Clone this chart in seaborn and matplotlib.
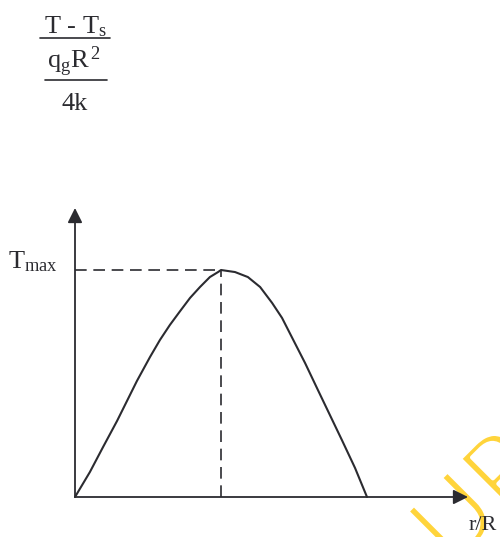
import matplotlib
matplotlib.use("Agg")
import matplotlib.pyplot as plt
import matplotlib.patheffects as pe
import seaborn as sns
import pandas as pd
from matplotlib.lines import Line2D

# Dimensionless temperature profile, theta = (T - Ts)/(qg R^2 / 4k), against r/R
r_over_R = [0.0, 0.051, 0.096, 0.144, 0.178, 0.212, 0.257, 0.291, 0.325, 0.360,
            0.394, 0.428, 0.462, 0.490, 0.5,
            0.548, 0.592, 0.634, 0.675, 0.709, 0.753, 0.788, 0.832, 0.873, 0.914,
            0.959, 1.0]
theta = [0.0, 0.110, 0.220, 0.335, 0.423, 0.511, 0.617, 0.692, 0.758, 0.819,
         0.877, 0.925, 0.969, 0.991, 1.0,
         0.991, 0.969, 0.925, 0.855, 0.789, 0.678, 0.590, 0.471, 0.361, 0.251,
         0.128, 0.0]

y_label_lines = ["T - T$_\\mathregular{s}$",
                 "q$_\\mathregular{g}$R$^{\\,\\mathregular{2}}$",
                 "4k"]
peak_label = "T$_\\mathregular{max}$"
x_label = "r/R"
stamp = "UP"

sns.set_style("white")
plt.rcParams["font.family"] = ["Liberation Serif", "DejaVu Serif"]
plt.rcParams["mathtext.fontset"] = "custom"
plt.rcParams["mathtext.rm"] = "Liberation Serif"
plt.rcParams["mathtext.it"] = "Liberation Serif:italic"

W, H = 500, 537
fig = plt.figure(figsize=(W / 100, H / 100), dpi=100)
ax = fig.add_axes([0, 0, 1, 1])
ax.set_axis_off()

# pixel scale of the plot area
x0, y0, sx, sy = 75, 497, 292, 227
ax.set_xlim(-x0 / sx, (W - x0) / sx)
ax.set_ylim(-(H - y0) / sy, y0 / sy)

ink = "#2b2b30"


def fx(px):
    return px / W


def fy(py):
    return 1 - py / H


# diagonal stamp in the corner, kept underneath the drawing
ax.text(fx(452), fy(568), stamp, transform=fig.transFigure, fontsize=72,
        family="Lato", fontweight="normal", color="#FFD43B", rotation=45,
        rotation_mode="anchor", ha="left", va="baseline", zorder=0,
        path_effects=[pe.Normal(),
                      pe.Stroke(linewidth=3.0, foreground="white")])

df = pd.DataFrame({"r": r_over_R, "theta": theta})
sns.lineplot(data=df, x="r", y="theta", ax=ax, color=ink, lw=1.5, sort=False,
             zorder=3)

# dashed guides to the maximum
i_max = df["theta"].idxmax()
r_pk, t_pk = df.loc[i_max, "r"], df.loc[i_max, "theta"]
ax.plot([0, r_pk], [t_pk, t_pk], color=ink, lw=1.2, dashes=(7, 4), zorder=3)
ax.plot([r_pk, r_pk], [0, t_pk], color=ink, lw=1.2, dashes=(7, 4), zorder=3)

# axes with arrow heads
arrow = dict(arrowstyle="-|>", mutation_scale=22, lw=1.3, color=ink,
             shrinkA=0, shrinkB=0)
ax.annotate("", xy=(0, (y0 - 208) / sy), xytext=(0, 0), arrowprops=arrow,
            zorder=4)
ax.annotate("", xy=((468 - x0) / sx, 0), xytext=(0, 0), arrowprops=arrow,
            zorder=4)

# axis label as a stacked fraction
fs = 19
fig.text(fx(75), fy(33), y_label_lines[0], fontsize=fs, ha="center",
         va="baseline", color=ink)
fig.add_artist(Line2D([fx(40), fx(110)], [fy(38), fy(38)], color=ink, lw=1.2,
                      transform=fig.transFigure))
fig.text(fx(74), fy(68), y_label_lines[1], fontsize=fs, ha="center",
         va="baseline", color=ink)
fig.add_artist(Line2D([fx(45), fx(107)], [fy(80), fy(80)], color=ink, lw=1.2,
                      transform=fig.transFigure))
fig.text(fx(75), fy(110), y_label_lines[2], fontsize=fs, ha="center",
         va="baseline", color=ink)

fig.text(fx(8), fy(268), peak_label, fontsize=fs, ha="left", va="baseline",
         color=ink)
fig.text(fx(469), fy(530), x_label, fontsize=16, ha="left", va="baseline",
         color=ink)

fig.savefig("out.png", dpi=100)
